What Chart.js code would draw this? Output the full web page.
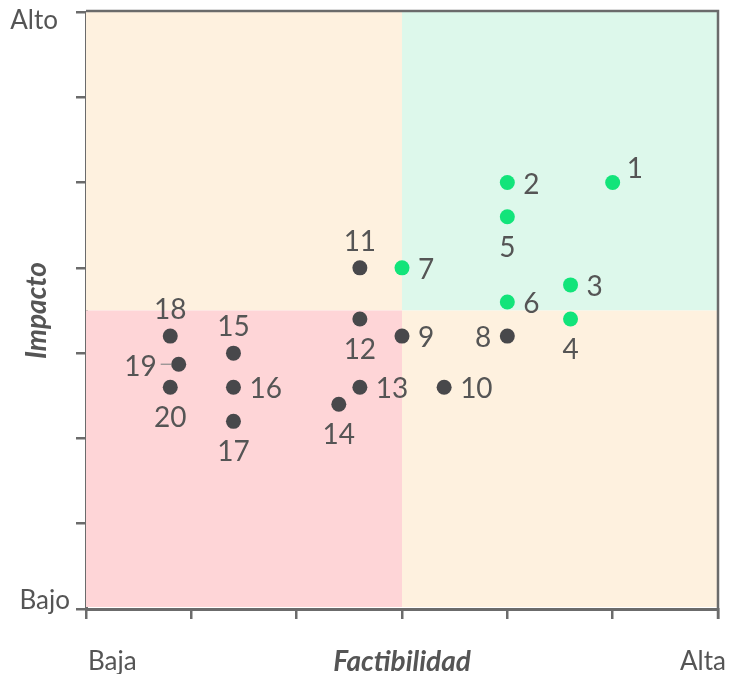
<!DOCTYPE html>
<html>
<head>
<meta charset="utf-8">
<script src="https://cdn.jsdelivr.net/npm/chart.js@4/dist/chart.umd.min.js"></script>
<style>
  html, body { margin: 0; padding: 0; background: #ffffff; }
  #wrap { width: 729px; height: 674px; }
</style>
</head>
<body>
<div id="wrap"><canvas id="c" width="729" height="674"></canvas></div>
<script>
// ---- data ----
const ids        = ["1","2","3","4","5","6","7","8","9","10","11","12","13","14","15","16","17","18","19","20"];
const factibilidad = [5, 4, 4.6, 4.6, 4, 4, 3, 4, 3, 3.4, 2.6, 2.6, 2.6, 2.4, 1.4, 1.4, 1.4, 0.8, 0.88, 0.8];
const impacto      = [5, 5, 3.8, 3.4, 4.6, 3.6, 4, 3.2, 3.2, 2.6, 4, 3.4, 2.6, 2.4, 3.0, 2.6, 2.2, 3.2, 2.87, 2.6];
const priority     = [true, true, true, true, true, true, true, false, false, false, false, false, false, false, false, false, false, false, false, false];
const labelSide    = ["topright","right","right","bottom","bottom","right","right","left","right","right","top","bottom","right","bottom","top","right","bottom","top","leftdash","bottom"];
const xTickLabels  = ["Baja", "Alta"];
const yTickLabels  = ["Bajo", "Alto"];
const xTitle = "Factibilidad";
const yTitle = "Impacto";
const xMax = 6, yMax = 7;
const xSplit = 3, ySplit = 3.5;

// ---- styles ----
const GREEN = "#12e47a";
const DARK = "#48484b";
const AXIS = "#6b6b6b";
const TEXT = "#555555";
const BG_ORANGE = "#fef1df";
const BG_GREEN = "#ddf8eb";
const BG_RED = "#fed5d7";

const points = factibilidad.map((x, i) => ({ x: x, y: impacto[i] }));

const quadrantPlugin = {
  id: "quadrants",
  beforeDatasetsDraw(chart) {
    const { ctx, chartArea, scales } = chart;
    const xs = scales.x, ys = scales.y;
    const xm = xs.getPixelForValue(xSplit), ym = ys.getPixelForValue(ySplit);
    const L = chartArea.left, R = chartArea.right, T = chartArea.top, B = chartArea.bottom;
    ctx.save();
    ctx.fillStyle = BG_ORANGE; ctx.fillRect(L, T, xm - L, ym - T);
    ctx.fillStyle = BG_GREEN;  ctx.fillRect(xm, T, R - xm, ym - T);
    ctx.fillStyle = BG_RED;    ctx.fillRect(L, ym, xm - L, B - ym - 2);
    ctx.fillStyle = BG_ORANGE; ctx.fillRect(xm, ym, R - xm, B - ym - 2);
    // top & right border
    ctx.strokeStyle = AXIS; ctx.lineWidth = 2.5;
    ctx.beginPath();
    ctx.moveTo(L, T - 1); ctx.lineTo(R, T - 1); ctx.lineTo(R, B + 10);
    ctx.stroke();
    ctx.restore();
  },
  afterDatasetsDraw(chart) {
    const { ctx, chartArea, scales } = chart;
    const meta = chart.getDatasetMeta(0);
    ctx.save();
    ctx.fillStyle = TEXT;
    ctx.font = "28px Lato";
    ctx.textBaseline = "middle";
    meta.data.forEach((el, i) => {
      const px = el.x, py = el.y;
      const side = labelSide[i];
      const t = ids[i];
      if (side === "right") { ctx.textAlign = "left"; ctx.fillText(t, px + 16, py + 2); }
      else if (side === "left") { ctx.textAlign = "right"; ctx.fillText(t, px - 16, py + 2); }
      else if (side === "top") { ctx.textAlign = "center"; ctx.fillText(t, px, py - 26); }
      else if (side === "bottom") { ctx.textAlign = "center"; ctx.fillText(t, px, py + 31); }
      else if (side === "topright") { ctx.textAlign = "left"; ctx.fillText(t, px + 14, py - 14); }
      else if (side === "leftdash") {
        ctx.textAlign = "right"; ctx.fillText(t, px - 22, py + 3);
        ctx.strokeStyle = "#8a8a8a"; ctx.lineWidth = 1.2;
        ctx.beginPath(); ctx.moveTo(px - 18, py); ctx.lineTo(px - 7, py); ctx.stroke();
      }
    });
    // axis end labels
    ctx.font = "26px Lato";
    ctx.fillStyle = TEXT;
    ctx.textAlign = "right";
    ctx.fillText(yTickLabels[1], 58, 21);
    ctx.fillText(yTickLabels[0], 70, 601);
    ctx.textAlign = "left";
    ctx.fillText(xTickLabels[0], 88, 662);
    ctx.textAlign = "right";
    ctx.fillText(xTickLabels[1], 726, 662);
    // titles
    ctx.font = "italic bold 28px Lato";
    ctx.textAlign = "center";
    ctx.fillText(xTitle, (chartArea.left + chartArea.right) / 2, 662);
    ctx.translate(37, (chartArea.top + chartArea.bottom) / 2);
    ctx.rotate(-Math.PI / 2);
    ctx.fillText(yTitle, 0, 0);
    ctx.restore();
  }
};

new Chart(document.getElementById("c"), {
  type: "scatter",
  data: {
    datasets: [{
      data: points,
      pointRadius: 7.5,
      pointHoverRadius: 7.5,
      pointBorderWidth: 0,
      pointBackgroundColor: priority.map(p => p ? GREEN : DARK),
      pointBorderColor: priority.map(p => p ? GREEN : DARK)
    }]
  },
  options: {
    responsive: false,
    animation: false,
    events: [],
    layout: { padding: { top: 12, right: 11, left: 0, bottom: 0 } },
    plugins: { legend: { display: false }, tooltip: { enabled: false } },
    scales: {
      x: {
        type: "linear", min: 0, max: xMax,
        ticks: { stepSize: 1, display: false },
        grid: { drawOnChartArea: false, drawTicks: true, tickLength: 10, color: AXIS, lineWidth: 2.5 },
        border: { display: true, color: AXIS, width: 3 },
        afterFit(s) { s.height = 65; }
      },
      y: {
        type: "linear", min: 0, max: yMax,
        ticks: { stepSize: 1, display: false },
        grid: { drawOnChartArea: false, drawTicks: true, tickLength: 10, color: AXIS, lineWidth: 2.5 },
        border: { display: true, color: AXIS, width: 3 },
        afterFit(s) { s.width = 86; }
      }
    }
  },
  plugins: [quadrantPlugin]
});
</script>
</body>
</html>
